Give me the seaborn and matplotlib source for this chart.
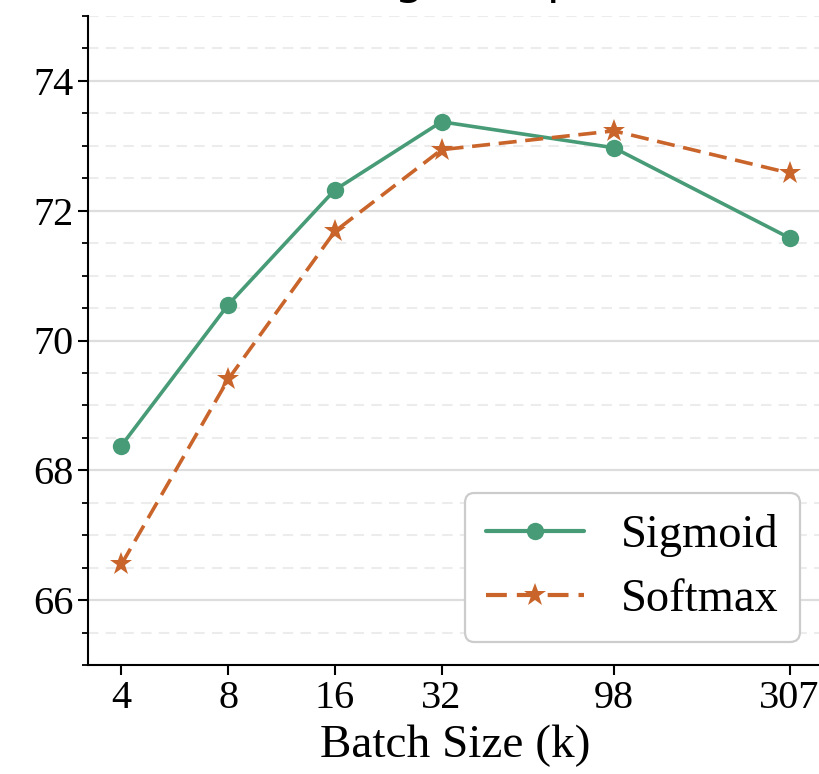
import matplotlib
matplotlib.use("Agg")
import matplotlib.pyplot as plt
import matplotlib.ticker as mticker
import seaborn as sns
import pandas as pd

# ---- data ----
batch_sizes = [4, 8, 16, 32, 98, 307]
batch_labels = ["4", "8", "16", "32", "98", "307"]
sigmoid_acc = [68.38, 70.55, 72.32, 73.37, 72.97, 71.58]
softmax_acc = [66.55, 69.40, 71.68, 72.94, 73.23, 72.58]
series_names = ["Sigmoid", "Softmax"]
title_text = "Training Setup"
xlabel_text = "Batch Size (k)"

df = pd.DataFrame({
    "batch": batch_sizes * 2,
    "acc": sigmoid_acc + softmax_acc,
    "loss": [series_names[0]] * len(batch_sizes) + [series_names[1]] * len(batch_sizes),
})

sns.set_style("ticks")
plt.rcParams["font.family"] = ["Liberation Serif", "DejaVu Serif"]
plt.rcParams["text.color"] = "black"
plt.rcParams["axes.labelcolor"] = "black"
plt.rcParams["xtick.color"] = "black"
plt.rcParams["ytick.color"] = "black"

fig = plt.figure(figsize=(8.2, 7.74), dpi=100)
ax = fig.add_axes([88 / 820, 1 - 665 / 774, 735 / 820, (665 - 16) / 774])

green = "#479b76"
orange = "#c9642a"

sns.lineplot(
    data=df, x="batch", y="acc", hue="loss", style="loss",
    palette={"Sigmoid": green, "Softmax": orange},
    markers={"Sigmoid": "o", "Softmax": "*"},
    dashes={"Sigmoid": "", "Softmax": (5, 2.4)},
    linewidth=2.6, markersize=12.5, markeredgewidth=0,
    ax=ax,
)
for line in ax.get_lines():
    if line.get_marker() == "*":
        line.set_markersize(17)

ax.set_xscale("log", base=2)
ax.set_xticks(batch_sizes)
ax.set_xticklabels(batch_labels)
ax.xaxis.set_minor_locator(mticker.NullLocator())

ax.set_ylim(65, 75)
ax.yaxis.set_major_locator(mticker.MultipleLocator(2))
ax.yaxis.set_minor_locator(mticker.MultipleLocator(0.5))

ax.grid(axis="y", which="major", color="#dddddd", linewidth=1.6, linestyle="-")
ax.grid(axis="y", which="minor", color="#ececec", linewidth=1.5, linestyle=(0, (5, 3.5)))
ax.set_axisbelow(True)

ax.tick_params(axis="both", which="major", labelsize=29, length=7, width=1.5,
               color="black", labelcolor="black")
ax.tick_params(axis="y", which="minor", length=4.5, width=1.3, color="black")

for s in ["top", "right"]:
    ax.spines[s].set_visible(False)
for s in ["left", "bottom"]:
    ax.spines[s].set_linewidth(1.5)
    ax.spines[s].set_color("black")

ax.set_xlabel(xlabel_text, fontsize=34, labelpad=6, color="black")
ax.set_ylabel("")

handles, labels = ax.get_legend_handles_labels()
for h in handles:
    h.set_linewidth(3.0)
leg = ax.legend(
    handles, labels, loc="lower right", fontsize=33.5, frameon=True,
    framealpha=1, edgecolor="#cccccc", fancybox=True,
    handlelength=2.1, handletextpad=0.8, borderaxespad=0.5,
    labelspacing=0.45, borderpad=0.45,
)
leg.get_frame().set_linewidth(1.6)
for t in leg.get_texts():
    t.set_color("black")

fig.text(408 / 820, 1 + 7 / 774, title_text, ha="center", va="baseline",
         fontsize=34, family=["DejaVu Sans"], color="black")

fig.savefig("out.png", dpi=100)
